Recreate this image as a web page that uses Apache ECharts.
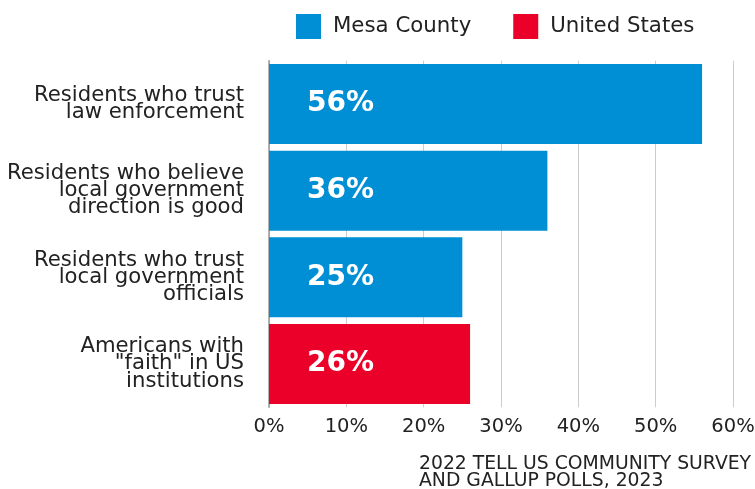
<!DOCTYPE html>
<html>
<head>
<meta charset="utf-8">
<script src="https://cdn.jsdelivr.net/npm/echarts@6/dist/echarts.min.js"></script>
<style>
html,body{margin:0;padding:0;background:#fff;}
#chart{width:755px;height:489px;}
</style>
</head>
<body>
<div id="chart"></div>
<script>
var categories = [
  "Residents who trust\nlaw enforcement",
  "Residents who believe\nlocal government\ndirection is good",
  "Residents who trust\nlocal government\nofficials",
  "Americans with\n\"faith\" in US\ninstitutions"
];
var mesaCounty = [56, 36, 25, '-'];
var unitedStates = ['-', '-', '-', 26];
var xTicks = [0, 10, 20, 30, 40, 50, 60];
var sourceLines = ["2022 TELL US COMMUNITY SURVEY", "AND GALLUP POLLS, 2023"];

var FONT = "DejaVu Sans";
var chart = echarts.init(document.getElementById('chart'), null, {renderer: 'canvas'});
var labelCfg = {
  show: true,
  position: 'insideLeft',
  distance: 38,
  formatter: '{c}%',
  color: '#fff',
  fontFamily: FONT,
  fontWeight: 'bold',
  fontSize: 28
};
chart.setOption({
  animation: false,
  textStyle: {fontFamily: FONT},
  legend: {
    top: 9,
    left: 291,
    itemWidth: 25,
    itemHeight: 25,
    itemGap: 42,
    icon: 'rect',
    textStyle: {fontFamily: FONT, fontSize: 21.3, color: '#222', padding: [0, 0, 0, 7]},
    data: ['Mesa County', 'United States']
  },
  grid: {left: 269, right: 22, top: 60.7, bottom: 81.7, containLabel: false, outerBoundsMode: 'none'},
  xAxis: {
    type: 'value',
    min: xTicks[0],
    max: xTicks[xTicks.length - 1],
    interval: 10,
    axisLine: {show: false},
    axisTick: {show: false},
    splitLine: {show: true, lineStyle: {color: '#cccccc', width: 1}},
    axisLabel: {
      margin: 10,
      fontFamily: FONT,
      fontSize: 19.5,
      color: '#222',
      formatter: function (v) { return v + '%'; }
    }
  },
  yAxis: {
    type: 'category',
    inverse: true,
    data: categories,
    axisLine: {show: true, lineStyle: {color: '#999', width: 1.5}},
    axisTick: {show: false},
    axisLabel: {
      margin: 25,
      fontFamily: FONT,
      fontSize: 21.2,
      lineHeight: 17.3,
      color: '#222',
      align: 'right'
    }
  },
  series: [
    {
      name: 'Mesa County', type: 'bar', stack: 'a',
      barCategoryGap: '7.7%',
      itemStyle: {color: '#008fd5'},
      label: labelCfg,
      data: mesaCounty
    },
    {
      name: 'United States', type: 'bar', stack: 'a',
      barCategoryGap: '7.7%',
      itemStyle: {color: '#eb0029'},
      label: labelCfg,
      data: unitedStates
    }
  ],
  graphic: [{
    type: 'text',
    left: 419,
    top: 455,
    style: {
      text: sourceLines.join('\n'),
      font: '18.8px "' + FONT + '"',
      lineHeight: 16.7,
      fill: '#222'
    }
  }]
});
</script>
</body>
</html>
